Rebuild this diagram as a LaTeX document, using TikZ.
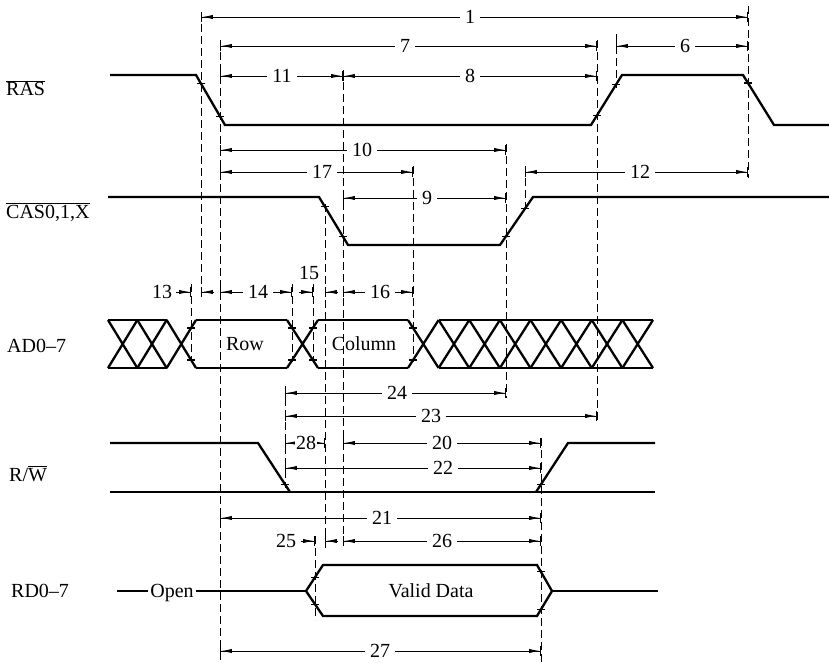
\documentclass[tikz,border=0pt]{standalone}
\usepackage{fontspec}
\setmainfont{Liberation Serif}
\usetikzlibrary{arrows.meta}
\tikzset{
  sig/.style={line width=2.3pt, line join=miter},
  guide/.style={line width=1pt, dash pattern=on 8pt off 4pt},
  dimline/.style={line width=0.9pt, {Bar[width=10pt]Latex[length=11pt,width=4.2pt]}-{Latex[length=11pt,width=4.2pt]Bar[width=10pt]}},
  inarrow/.style={line width=0.9pt, -{Latex[length=11pt,width=4.2pt]Bar[width=10pt]}},
  lab/.style={font=\fontsize{20}{24}\selectfont, inner sep=0pt},
  dimlab/.style={lab, fill=white, inner xsep=5pt, inner ysep=0pt},
  tickst/.style={line width=1.1pt}
}
\newcommand\dimx[5]{%
  \draw[dimline] (#1,#3) -- (#2,#3);
  \node[dimlab] (d#5) at (#4,#3) {#5};}
\newcommand\tk[2]{\draw[tickst] (#1-4,#2) -- (#1+4,#2);}
\begin{document}
\begin{tikzpicture}[x=1pt,y=-1pt]
\useasboundingbox (0,0) rectangle (829,663);
% ---------- dimension lines ----------
\dimx{201}{748}{17}{470}{1}
\dimx{220}{597}{46}{405}{7}
\dimx{616}{748}{46}{685}{6}
\dimx{220}{343}{76}{282}{11}
\dimx{343}{597}{76}{470}{8}
\dimx{220}{506}{150}{362}{10}
\dimx{220}{413}{172}{322}{17}
\dimx{525}{748}{172}{640}{12}
\dimx{343}{506}{198}{427}{9}
\dimx{220}{292}{292}{258}{14}
\dimx{343}{413}{292}{380}{16}
\dimx{285}{506}{393}{397}{24}
\dimx{285}{597}{416}{431}{23}
\draw[dimline] (285,443) -- (325,443);
\node[dimlab, inner xsep=1pt] (d28) at (306,443) {28};
\dimx{343}{541}{443}{442}{20}
\dimx{285}{541}{468}{443}{22}
\dimx{220}{541}{518}{382}{21}
\dimx{343}{541}{541}{442}{26}
\dimx{220}{541}{651}{380}{27}
% short intervals with arrows from outside
\node[lab] (d13) at (162,292) {13};
\draw[inarrow] (176,292) -- (191,292);
\draw[inarrow] (214,292) -- (201,292);
\node[lab] (d15) at (309,273) {15};
\draw[inarrow] (299,292) -- (313,292);
\draw[inarrow] (338,292) -- (325,292);
\node[lab] (d25) at (286,541) {25};
\draw[inarrow] (301,541) -- (315,541);
\draw[inarrow] (338,541) -- (325,541);
% ---------- dashed guide lines ----------
\draw[guide] (201,12) -- (201,298);
\draw[guide] (220,40) -- (220,663);
\draw[guide] (343,70) -- (343,548);
\draw[guide] (597,40) -- (597,422);
\draw[guide] (616,34) -- (616,88);
\draw[guide] (748,6) -- (748,178);
\draw[guide] (506,144) -- (506,398);
\draw[guide] (525,166) -- (525,209);
\draw[guide] (413,166) -- (413,362);
\draw[guide] (325,204) -- (325,548);
\draw[guide] (191,284) -- (191,362);
\draw[guide] (292,284) -- (292,362);
\draw[guide] (313,284) -- (313,362);
\draw[guide] (285,386) -- (285,488);
\draw[guide] (541,438) -- (541,663);
\draw[guide] (315,536) -- (315,620);
% ---------- signal names ----------
\node[lab, anchor=base west] (nRAS) at (6,96) {$\overline{\mbox{RAS}}$};
\node[lab, anchor=base west] (nCAS) at (6,218) {$\overline{\mbox{CAS0,1,X}}$};
\node[lab, anchor=base west] (nAD) at (7,352) {AD0--7};
\node[lab, anchor=base west] (nRW) at (9,481) {R/$\overline{\mbox{W}}$};
\node[lab, anchor=base west] (nRD) at (11,597) {RD0--7};
% ---------- RAS ----------
\draw[sig] (110,75) -- (196,75) -- (225,125) -- (591,125) -- (622,75) -- (743,75) -- (774,125) -- (829,125);
% ---------- CAS ----------
\draw[sig] (108,197) -- (319,197) -- (348,245) -- (500,245) -- (533,197) -- (829,197);
% ---------- AD ----------
\foreach \i in {0,1,2} {
  \draw[sig] ({108+29.33*\i},320) -- ({108+29.33*(\i+1)},368)
             ({108+29.33*\i},368) -- ({108+29.33*(\i+1)},320);
}
\draw[sig] (108,320) -- (166.6,320) (108,368) -- (166.6,368);
\draw[sig] (196,320) -- (287,320) (196,368) -- (287,368);
\draw[sig] (287,320) -- (318,368) (287,368) -- (318,320);
\draw[sig] (318,320) -- (408,320) (318,368) -- (408,368);
\foreach \i in {0,...,7} {
  \draw[sig] ({408+30.625*\i},320) -- ({408+30.625*(\i+1)},368)
             ({408+30.625*\i},368) -- ({408+30.625*(\i+1)},320);
}
\draw[sig] (438.6,320) -- (653,320) (438.6,368) -- (653,368);
\node[lab] (tRow) at (245,344) {Row};
\node[lab] (tCol) at (364,344) {Column};
% ---------- R/W ----------
\draw[sig] (110,443) -- (258,443) -- (290,492);
\draw[sig] (110,492) -- (655,492);
\draw[sig] (536,492) -- (568,443) -- (655,443);
% ---------- RD ----------
\node[lab, anchor=base] (tOpen) at (172,597) {Open};
\draw[sig] (117,591) -- ([xshift=-2pt]tOpen.west |- 0,591);
\draw[sig] ([xshift=2pt]tOpen.east |- 0,591) -- (306,591);
\draw[sig] (306,591) -- (323,565) -- (537,565) -- (552,591) -- (537,616) -- (323,616) -- cycle;
\draw[sig] (552,591) -- (658,591);
\node[lab] (tValid) at (431,591) {Valid Data};
% ---------- edge ticks ----------
\tk{201}{83.6}\tk{220}{116.4}\tk{597}{115.3}\tk{616}{84.7}\tk{748}{83}
\tk{325}{206.9}\tk{343}{236.7}\tk{506}{236.3}\tk{525}{208.6}
\tk{191}{328}\tk{191}{360}\tk{292}{328}\tk{292}{360}
\tk{313}{328}\tk{313}{360}\tk{413}{328}\tk{413}{360}
\tk{285}{484.4}\tk{541}{484.3}
\tk{315}{577.2}\tk{315}{604.8}\tk{541}{571.9}\tk{541}{609.1}
\end{tikzpicture}
\end{document}
